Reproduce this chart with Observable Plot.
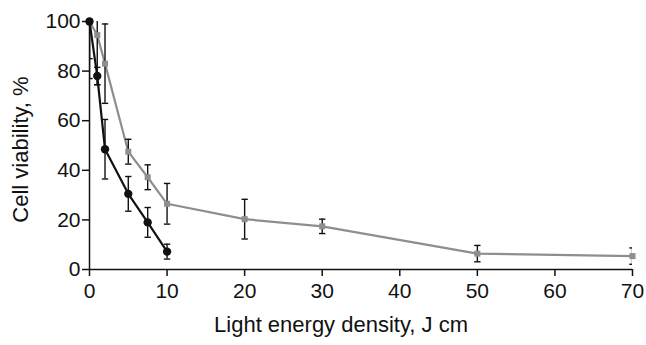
<!DOCTYPE html>
<html>
<head>
<meta charset="utf-8">
<script src="https://cdn.jsdelivr.net/npm/d3@7"></script>
<script src="https://cdn.jsdelivr.net/npm/@observablehq/plot@0.6"></script>
<style>
  html, body { margin: 0; padding: 0; background: #fff; }
</style>
</head>
<body>
<div id="chart"></div>
<script>
// Data
const blackX = [0, 1, 2, 5, 7.5, 10];
const blackY = [100, 78, 48.5, 30.5, 19, 7.2];
const blackErr = [15, 3.5, 12, 7, 6, 3];

const grayX = [0, 1, 2, 5, 7.5, 10, 20, 30, 50, 70];
const grayY = [100, 94.5, 83, 47.5, 37.2, 26.5, 20.3, 17.4, 6.4, 5.4];
const grayErr = [23, 20, 16, 5, 5, 8.2, 8, 2.9, 3.3, 3.3];

const xTicks = [0, 10, 20, 30, 40, 50, 60, 70];
const yTicks = [0, 20, 40, 60, 80, 100];
const xLabel = "Light energy density, J cm";
const yLabel = "Cell viability, %";

const black = blackX.map((x, i) => ({x, y: blackY[i], e: blackErr[i]}));
const gray = grayX.map((x, i) => ({x, y: grayY[i], e: grayErr[i]}));
const all = [...gray, ...black];

const capSymbol = {
  draw(ctx, size) {
    const w = Math.sqrt(size) / 2;
    ctx.moveTo(-w, 0);
    ctx.lineTo(w, 0);
  }
};

const ink = "#111";
const grayColor = "#8e8e8e";

const chart = Plot.plot({
  width: 646,
  height: 345,
  marginLeft: 89,
  marginRight: 14,
  marginTop: 21,
  marginBottom: 76,
  style: {fontFamily: "'Liberation Sans', Arial, sans-serif", fontSize: "20px", color: ink, background: "#fff"},
  x: {domain: [0, 70]},
  y: {domain: [0, 100]},
  marks: [
    Plot.axisX({ticks: xTicks, tickSize: 7, tickPadding: 7, label: null, strokeWidth: 1.5, fontSize: 21}),
    Plot.axisY({ticks: yTicks, tickSize: 7, tickPadding: 2, label: null, strokeWidth: 1.5, fontSize: 21}),
    Plot.ruleY([0], {stroke: ink, strokeWidth: 1.5}),
    Plot.ruleX([0], {stroke: ink, strokeWidth: 1.5}),
    Plot.line(gray, {x: "x", y: "y", stroke: grayColor, strokeWidth: 2.2}),
    Plot.line(black, {x: "x", y: "y", stroke: ink, strokeWidth: 2.2}),
    Plot.ruleX(all, {x: "x", y1: d => d.y - d.e, y2: d => d.y + d.e, stroke: ink, strokeWidth: 1.4, clip: true}),
    Plot.dot(all, {x: "x", y: d => d.y - d.e, symbol: capSymbol, r: 3.6, stroke: ink, strokeWidth: 1.4, clip: true}),
    Plot.dot(all, {x: "x", y: d => d.y + d.e, symbol: capSymbol, r: 3.6, stroke: ink, strokeWidth: 1.4, clip: true}),
    Plot.dot(gray, {x: "x", y: "y", symbol: "square", r: 3.4, fill: grayColor, stroke: null}),
    Plot.dot(black, {x: "x", y: "y", symbol: "circle", r: 4.2, fill: ink, stroke: null}),
    Plot.text([yLabel], {frameAnchor: "left", textAnchor: "middle", dx: -77, dy: 4, rotate: -90, lineAnchor: "top", fontSize: 22, fill: ink}),
    Plot.text([xLabel], {frameAnchor: "bottom", textAnchor: "middle", dx: -20, dy: 47, lineAnchor: "top", fontSize: 22, fill: ink})
  ]
});
document.getElementById("chart").appendChild(chart);
</script>
</body>
</html>
